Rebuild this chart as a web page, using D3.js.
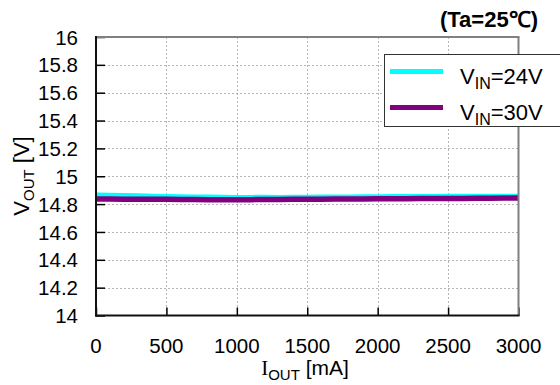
<!DOCTYPE html>
<html><head><meta charset="utf-8">
<script src="https://cdn.jsdelivr.net/npm/d3@7"></script>
<style>
html,body{margin:0;padding:0;background:#fff;}
svg{display:block;}
text{font-family:"Liberation Sans",Arial,sans-serif;fill:#000;}
</style></head>
<body><svg id="c" width="560" height="385"></svg>
<script>
const currentMA = [0,100,200,300,400,500,600,700,800,900,1000,1100,1200,1300,1400,1500,1600,1700,1800,1900,2000,2100,2200,2300,2400,2500,2600,2700,2800,2900,3000];
const vout24 = [14.868,14.866,14.864,14.861,14.859,14.856,14.855,14.853,14.852,14.851,14.850,14.850,14.851,14.850,14.851,14.851,14.852,14.853,14.853,14.854,14.855,14.856,14.856,14.857,14.857,14.858,14.858,14.858,14.858,14.858,14.858];
const vout30 = [14.836,14.836,14.835,14.835,14.834,14.834,14.833,14.833,14.832,14.832,14.832,14.832,14.833,14.833,14.834,14.834,14.835,14.836,14.837,14.837,14.838,14.839,14.839,14.840,14.840,14.841,14.841,14.842,14.842,14.843,14.843];
const xTicks = [0,500,1000,1500,2000,2500,3000];
const yTicks = [14,14.2,14.4,14.6,14.8,15,15.2,15.4,15.6,15.8,16];
const seriesNames = ["24V","30V"];
const seriesColors = ["#00ffff","#800080"];

const svg = d3.select("#c");
const L=96, R=518.5, T=37, B=315.5;
const x = d3.scaleLinear().domain([0,3000]).range([L,R]);
const y = d3.scaleLinear().domain([14,16]).range([B,T]);

// grid
const grid = svg.append("g").attr("stroke","#b4b4b4").attr("stroke-width",1).attr("stroke-dasharray","2,2");
grid.selectAll("line.h").data(yTicks.filter(d=>d>14&&d<16)).join("line")
  .attr("x1",L).attr("x2",R).attr("y1",d=>Math.round(y(d))+0.5).attr("y2",d=>Math.round(y(d))+0.5);
grid.selectAll("line.v").data(xTicks.filter(d=>d>0&&d<3000)).join("line")
  .attr("y1",T).attr("y2",B).attr("x1",d=>Math.round(x(d))+0.5).attr("x2",d=>Math.round(x(d))+0.5);

// axes with inward ticks
const yAxis = d3.axisRight(y).tickValues(yTicks).tickSize(9).tickFormat("");
const gy = svg.append("g").attr("transform",`translate(${L},0)`).call(yAxis);
gy.select(".domain").remove();
gy.selectAll(".tick line").attr("stroke","#000").attr("stroke-width",1.5);
const xAxis = d3.axisTop(x).tickValues(xTicks).tickSize(8).tickFormat("");
const gx = svg.append("g").attr("transform",`translate(0,${B})`).call(xAxis);
gx.select(".domain").remove();
gx.selectAll(".tick line").attr("stroke","#000").attr("stroke-width",1.5);

// tick labels
svg.append("g").selectAll("text").data(yTicks).join("text")
  .attr("x",78).attr("y",d=>y(d)).attr("dy","0.37em").attr("text-anchor","end")
  .attr("font-size",20.5).text(d=>d3.format("")(+d.toFixed(1)));
svg.append("g").selectAll("text").data(xTicks).join("text")
  .attr("x",d=>x(d)).attr("y",353).attr("text-anchor","middle")
  .attr("font-size",20.5).text(d=>d);

// lines
const line = d3.line().x((d,i)=>x(currentMA[i])).y(d=>y(d)).curve(d3.curveLinear);
svg.append("path").datum(vout24).attr("d",line).attr("fill","none")
  .attr("stroke",seriesColors[0]).attr("stroke-width",4.5);
svg.append("path").datum(vout30).attr("d",line).attr("fill","none")
  .attr("stroke",seriesColors[1]).attr("stroke-width",5.5);

// frame
svg.append("line").attr("x1",L).attr("x2",R+1).attr("y1",T).attr("y2",T).attr("stroke","#808080").attr("stroke-width",2);
svg.append("line").attr("x1",R).attr("x2",R).attr("y1",T).attr("y2",B).attr("stroke","#808080").attr("stroke-width",2);
svg.append("line").attr("x1",L).attr("x2",L).attr("y1",T-1).attr("y2",B+1).attr("stroke","#111").attr("stroke-width",2);
svg.append("line").attr("x1",L-1).attr("x2",R+1).attr("y1",B).attr("y2",B).attr("stroke","#111").attr("stroke-width",2);

// legend
const lg = svg.append("g");
lg.append("rect").attr("x",384.5).attr("y",54.5).attr("width",200).attr("height",72)
  .attr("fill","#fff").attr("stroke","#333").attr("stroke-width",1);
seriesNames.forEach((n,i)=>{
  const yy = 71.5 + i*36;
  lg.append("line").attr("x1",390).attr("x2",443).attr("y1",yy).attr("y2",yy)
    .attr("stroke",seriesColors[i]).attr("stroke-width",5);
  const t = lg.append("text").attr("x",460).attr("y",yy+12).attr("font-size",22);
  t.append("tspan").text("V");
  t.append("tspan").attr("font-size",16).attr("dy",5).text("IN");
  t.append("tspan").attr("dy",-5).text("="+n);
});

// title
svg.append("text").attr("x",538).attr("y",27).attr("text-anchor","end")
  .attr("font-size",22).attr("font-weight","bold").text("(Ta=25℃)");

// axis titles
const yl = svg.append("text").attr("transform","translate(29,176) rotate(-90)")
  .attr("text-anchor","middle").attr("font-size",22);
yl.append("tspan").text("V");
yl.append("tspan").attr("font-size",15).attr("dy",5).text("OUT");
yl.append("tspan").attr("dy",-5).text(" [V]");

const xl = svg.append("text").attr("x",305).attr("y",375).attr("text-anchor","middle").attr("font-size",21);
xl.append("tspan").attr("font-family","Liberation Serif").text("I");
xl.append("tspan").attr("font-size",15).attr("dy",5).text("OUT");
xl.append("tspan").attr("dy",-5).text(" [mA]");
</script></body></html>
